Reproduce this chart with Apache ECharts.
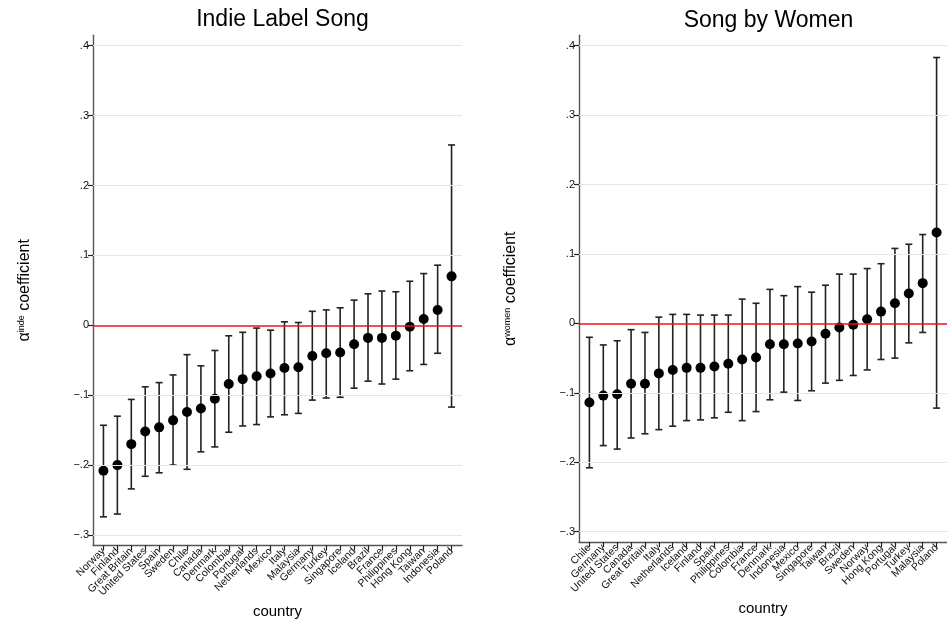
<!DOCTYPE html>
<html>
<head>
<meta charset="utf-8">
<script src="https://cdn.jsdelivr.net/npm/echarts@6/dist/echarts.min.js"></script>
<style>
  html, body { margin: 0; padding: 0; background: #fff; }
  #main { width: 947px; height: 628px; }
</style>
</head>
<body>
<div id="main"></div>
<script>
// left panel: indie label songs
var countriesIndie = ['Norway', 'Finland', 'Great Britain', 'United States', 'Spain', 'Sweden', 'Chile', 'Canada',
  'Denmark', 'Colombia', 'Portugal', 'Netherlands', 'Mexico', 'Italy', 'Malaysia', 'Germany', 'Turkey',
  'Singapore', 'Iceland', 'Brazil', 'France', 'Philippines', 'Hong Kong', 'Taiwan', 'Indonesia', 'Poland'];
var indieCoef = [-0.208, -0.200, -0.170, -0.152, -0.146, -0.136, -0.124, -0.119, -0.105, -0.084, -0.077, -0.073, -0.069,
  -0.061, -0.060, -0.044, -0.040, -0.039, -0.027, -0.018, -0.018, -0.015, -0.002, 0.009, 0.022, 0.070];
var indieLow = [-0.274, -0.270, -0.234, -0.216, -0.211, -0.200, -0.206, -0.181, -0.174, -0.153, -0.144, -0.142, -0.131,
  -0.128, -0.126, -0.107, -0.104, -0.103, -0.090, -0.080, -0.084, -0.077, -0.065, -0.056, -0.040, -0.117];
var indieHigh = [-0.143, -0.130, -0.106, -0.088, -0.082, -0.071, -0.042, -0.058, -0.036, -0.015, -0.010, -0.004, -0.007,
  0.005, 0.004, 0.020, 0.022, 0.025, 0.036, 0.045, 0.049, 0.048, 0.063, 0.074, 0.086, 0.258];

// right panel: songs by women
var countriesWomen = ['Chile', 'Germany', 'United States', 'Canada', 'Great Britain', 'Italy', 'Netherlands', 'Iceland',
  'Finland', 'Spain', 'Philippines', 'Colombia', 'France', 'Denmark', 'Indonesia', 'Mexico', 'Singapore', 'Taiwan',
  'Brazil', 'Sweden', 'Norway', 'Hong Kong', 'Portugal', 'Turkey', 'Malaysia', 'Poland'];
var womenCoef = [-0.114, -0.104, -0.102, -0.087, -0.087, -0.072, -0.067, -0.064, -0.064, -0.062, -0.058, -0.052, -0.049,
  -0.030, -0.030, -0.029, -0.026, -0.015, -0.006, -0.002, 0.006, 0.017, 0.029, 0.043, 0.058, 0.131];
var womenLow = [-0.208, -0.176, -0.181, -0.165, -0.159, -0.153, -0.148, -0.140, -0.139, -0.136, -0.128, -0.140, -0.127,
  -0.110, -0.099, -0.111, -0.097, -0.086, -0.082, -0.075, -0.067, -0.052, -0.050, -0.028, -0.013, -0.122];
var womenHigh = [-0.020, -0.031, -0.025, -0.009, -0.013, 0.009, 0.013, 0.013, 0.012, 0.012, 0.012, 0.035, 0.029,
  0.049, 0.040, 0.053, 0.045, 0.055, 0.071, 0.071, 0.079, 0.086, 0.108, 0.114, 0.128, 0.383];

var yTicks = [-0.3, -0.2, -0.1, 0, 0.1, 0.2, 0.3, 0.4];

var font = 'Liberation Sans, Arial, Helvetica, sans-serif';

function fmtY(v) {
  if (Math.abs(v) < 1e-9) return '0';
  return (v < 0 ? '\u2212' : '') + '.' + Math.round(Math.abs(v) * 10);
}

function positions(list) {
  return list.map(function (d, i) { return i + 1; });
}

function errorBar(params, api) {
  var x = api.value(0);
  var lo = api.coord([x, api.value(1)]);
  var hi = api.coord([x, api.value(2)]);
  var w = 3.5;
  var st = { stroke: '#222', lineWidth: 1.6 };
  return {
    type: 'group',
    children: [
      { type: 'line', shape: { x1: lo[0], y1: lo[1], x2: hi[0], y2: hi[1] }, style: st },
      { type: 'line', shape: { x1: lo[0] - w, y1: lo[1], x2: lo[0] + w, y2: lo[1] }, style: st },
      { type: 'line', shape: { x1: hi[0] - w, y1: hi[1], x2: hi[0] + w, y2: hi[1] }, style: st }
    ]
  };
}

// the country labels are split over two stacked axes (odd / even positions),
// so the rotated labels are never auto-hidden as overlapping
function xAxisFor(idx, names, odd) {
  var pos = positions(names);
  var labelPos = pos.filter(function (p) { return (p % 2 === 1) === odd; });
  return {
    gridIndex: idx,
    type: 'value',
    position: 'bottom',
    offset: 0,
    min: 0.25,
    max: 26.75,
    name: odd ? 'country' : '',
    nameLocation: 'middle',
    nameGap: 59,
    nameTextStyle: { fontSize: 15, color: '#000', fontFamily: font },
    axisLine: { show: odd, onZero: false, lineStyle: { color: '#555', width: 1.4 } },
    axisTick: { show: odd, customValues: pos, length: 5, lineStyle: { color: '#222', width: 1.2 } },
    axisLabel: {
      customValues: labelPos,
      rotate: 45,
      margin: 4,
      fontSize: 10.5,
      color: '#111',
      fontFamily: font,
      showMinLabel: true,
      showMaxLabel: true,
      hideOverlap: false,
      formatter: function (v) { return names[Math.round(v) - 1] || ''; }
    },
    splitLine: { show: false }
  };
}

function yAxisFor(idx, sup) {
  return {
    gridIndex: idx,
    type: 'value',
    min: -0.315,
    max: 0.415,
    name: '{a|\u03b1}{s|' + sup + '}{c| coefficient}',
    nameLocation: 'middle',
    nameRotate: 90,
    nameGap: 60,
    nameTextStyle: {
      color: '#000',
      fontFamily: font,
      rich: {
        a: { fontSize: 16, fontFamily: font, color: '#000' },
        s: { fontSize: 9, fontFamily: font, color: '#000', verticalAlign: 'top', padding: [0, 0, 6, 0] },
        c: { fontSize: 16, fontFamily: font, color: '#000' }
      }
    },
    axisLine: { show: true, onZero: false, lineStyle: { color: '#555', width: 1.4 } },
    axisTick: { customValues: yTicks, length: 5, lineStyle: { color: '#222', width: 1.2 } },
    axisLabel: {
      customValues: yTicks,
      margin: 4,
      fontSize: 11,
      color: '#111',
      fontFamily: font,
      showMinLabel: true,
      showMaxLabel: true,
      formatter: fmtY
    },
    splitLine: { show: false }
  };
}

function seriesFor(idx, coef, low, high) {
  var pos = positions(coef);
  var bars = pos.map(function (x, i) { return [x, low[i], high[i]]; });
  var pts = pos.map(function (x, i) { return [x, coef[i]]; });
  return [
    {
      type: 'line',
      xAxisIndex: idx,
      yAxisIndex: idx,
      data: [],
      z: 1,
      silent: true,
      markLine: {
        silent: true,
        symbol: 'none',
        label: { show: false },
        lineStyle: { color: '#e6e6e6', width: 1.2, type: 'solid' },
        data: yTicks.filter(function (v) { return v !== 0; }).map(function (v) { return { yAxis: v }; })
      }
    },
    {
      type: 'custom',
      xAxisIndex: idx,
      yAxisIndex: idx,
      renderItem: errorBar,
      encode: { x: 0, y: [1, 2] },
      data: bars,
      z: 2,
      silent: true
    },
    {
      type: 'scatter',
      xAxisIndex: idx,
      yAxisIndex: idx,
      data: pts,
      symbolSize: 10,
      itemStyle: { color: '#000', opacity: 1 },
      z: 4,
      silent: true,
      markLine: {
        silent: true,
        symbol: 'none',
        label: { show: false },
        lineStyle: { color: '#e8141b', width: 1.5, type: 'solid' },
        data: [{ yAxis: 0 }]
      }
    }
  ];
}

var chart = echarts.init(document.getElementById('main'));
chart.setOption({
  backgroundColor: '#fff',
  animation: false,
  title: [
    { text: 'Indie Label Song', left: 277.5, top: 3, textAlign: 'center',
      textStyle: { fontSize: 23, fontWeight: 'normal', color: '#000', fontFamily: font } },
    { text: 'Song by Women', left: 763.5, top: 4, textAlign: 'center',
      textStyle: { fontSize: 23, fontWeight: 'normal', color: '#000', fontFamily: font } }
  ],
  grid: [
    { left: 93, top: 35.2, width: 369, height: 510.3 },
    { left: 579, top: 35.3, width: 369, height: 506.8 }
  ],
  xAxis: [
    xAxisFor(0, countriesIndie, true),
    xAxisFor(1, countriesWomen, true),
    xAxisFor(0, countriesIndie, false),
    xAxisFor(1, countriesWomen, false)
  ],
  yAxis: [yAxisFor(0, 'inde'), yAxisFor(1, 'women')],
  series: seriesFor(0, indieCoef, indieLow, indieHigh).concat(seriesFor(1, womenCoef, womenLow, womenHigh))
});
</script>
</body>
</html>
